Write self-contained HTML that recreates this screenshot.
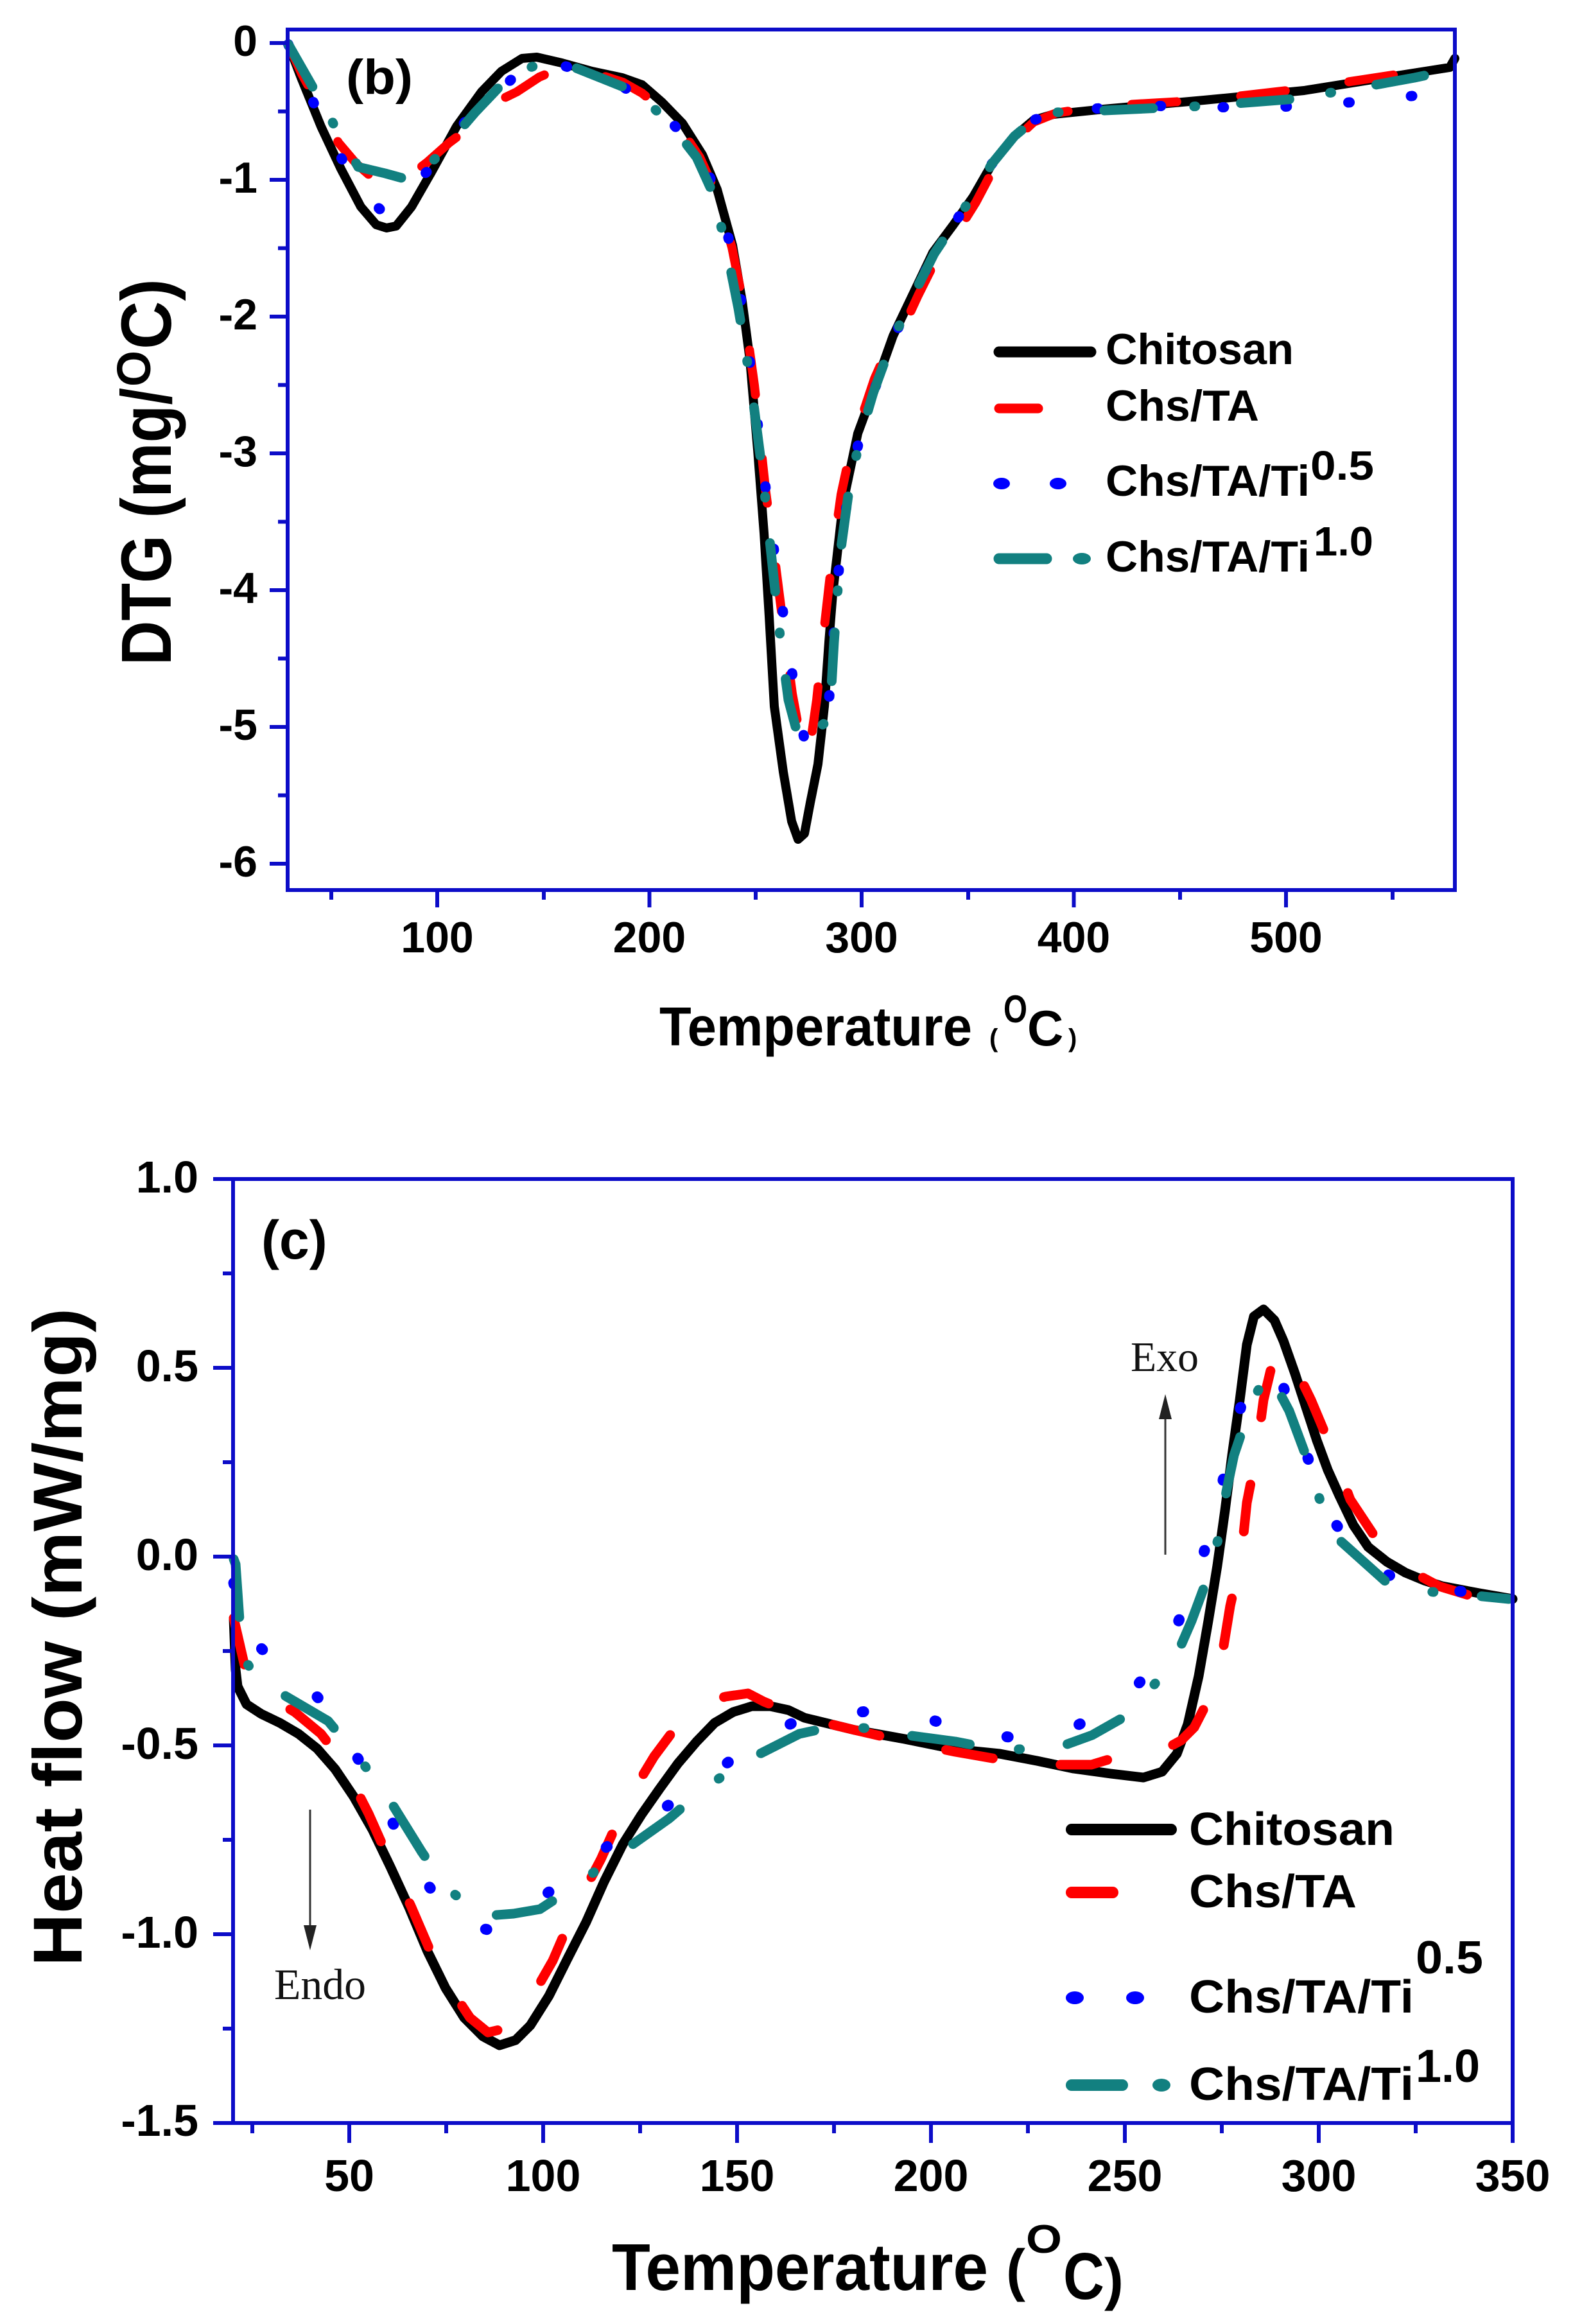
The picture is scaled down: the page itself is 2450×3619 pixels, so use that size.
<!DOCTYPE html>
<html>
<head>
<meta charset="utf-8">
<style>
  html,body{margin:0;padding:0;background:#fff;}
  body{width:2450px;height:3619px;overflow:hidden;}
  svg{display:block;}
  .tk{font-family:"Liberation Sans",Arial,sans-serif;font-weight:bold;fill:#000;}
  .lg{font-family:"Liberation Sans",Arial,sans-serif;font-weight:bold;fill:#000;}
  .sf{font-family:"Liberation Serif","Times New Roman",serif;fill:#111;}
</style>
</head>
<body>
<svg width="2450" height="3619" viewBox="0 0 2450 3619" xmlns="http://www.w3.org/2000/svg">
<rect x="0" y="0" width="2450" height="3619" fill="#fff"/>

<!-- ================= TOP PLOT (b) ================= -->
<g fill="none" stroke-linejoin="round">
  <!-- Chitosan -->
  <path stroke="#000" stroke-width="14" stroke-linecap="round" d="M449,69 L469,121 L500,197 L531,263 L562,322 L586,350 L602,355 L617,352 L641,322 L672,268 L711,197 L750,143 L781,111 L813,91 L836,89 L875,98 L922,111 L969,121 L1000,132 L1031,159 L1063,192 L1094,241 L1117,295 L1141,382 L1156,469 L1168,560 L1180,700 L1190,830 L1198,960 L1206,1100 L1220,1202 L1233,1279 L1243,1307 L1253,1298 L1262,1250 L1274,1190 L1284,1100 L1291,1000 L1297,925 L1313,784 L1336,675 L1360,610 L1391,523 L1422,458 L1453,393 L1485,350 L1516,306 L1547,252 L1578,214 L1610,187 L1641,178 L1719,170 L1875,156 L2031,141 L2188,116 L2258,105 L2266,91"/>
  <!-- Chs/TA -->
  <path stroke="#ff0000" stroke-width="14" stroke-linecap="round" stroke-dasharray="70 100" d="M449,69 L470,115 L500,170 L527,222 L555,255 L586,282 L605,292 L625,285 L645,268 L665,253 L700,222 L736,195 L770,160 L805,143 L840,120 L880,103 L920,112 L970,128 L1000,145 L1030,170 L1060,200 L1090,245 L1115,300 L1140,385 L1157,470 L1175,600 L1192,760 L1208,880 L1222,990 L1234,1080 L1245,1140 L1255,1178 L1262,1160 L1272,1090 L1283,985 L1296,870 L1310,770 L1325,700 L1342,650 L1362,590 L1384,540 L1406,512 L1430,460 L1460,400 L1492,360 L1520,315 L1548,262 L1580,218 L1610,190 L1645,176 L1719,165 L1875,156 L2031,138 L2188,114 L2234,108"/>
  <!-- Chs/TA/Ti0.5 -->
  <path stroke="#0000ff" stroke-width="16" stroke-linecap="round" stroke-dasharray="2 96" d="M449,69 L470,120 L500,185 L531,245 L560,295 L594,328 L615,320 L640,290 L671,262 L700,220 L740,170 L780,140 L810,110 L840,95 L870,100 L920,115 L970,135 L1010,160 L1050,195 L1085,235 L1110,285 L1130,350 L1150,440 L1165,540 L1180,660 L1195,780 L1210,890 L1225,990 L1240,1090 L1254,1156 L1270,1140 L1289,1123 L1296,1020 L1307,880 L1320,775 L1337,690 L1360,612 L1390,530 L1420,465 L1455,395 L1485,350 L1515,305 L1545,255 L1580,212 L1610,187 L1645,175 L1719,168 L1805,165 L1891,167 L1981,167 L2066,163 L2156,154 L2242,145"/>
  <!-- Chs/TA/Ti1.0 -->
  <path stroke="#128080" stroke-width="15" stroke-linecap="round" stroke-dasharray="76 64 2 71" d="M449,69 L497,153 L525,203 L558,260 L600,270 L640,281 L680,245 L740,175 L797,115 L840,100 L875,97 L920,115 L970,135 L1010,160 L1050,200 L1085,245 L1110,300 L1130,380 L1150,480 L1170,600 L1188,740 L1203,880 L1216,1000 L1228,1090 L1240,1135 L1250,1153 L1292,1120 L1299,1000 L1309,860 L1322,765 L1340,680 L1360,612 L1390,530 L1420,465 L1455,395 L1485,350 L1515,305 L1545,255 L1580,212 L1610,187 L1645,175 L1719,172 L1875,165 L2016,154 L2110,138 L2203,121 L2250,111"/>
</g>

<!-- axes top -->
<g stroke="#0c0cc8" stroke-width="6" fill="none">
  <rect x="448" y="46" width="1818" height="1340"/>
  <path d="M420,67 H448 M420,280 H448 M420,493 H448 M420,706 H448 M420,919 H448 M420,1132 H448 M420,1345 H448"/>
  <path d="M433,173.5 H448 M433,386.5 H448 M433,599.5 H448 M433,812.5 H448 M433,1025.5 H448 M433,1238.5 H448"/>
  <path d="M681,1386 V1413 M1011.5,1386 V1413 M1342,1386 V1413 M1672.5,1386 V1413 M2003,1386 V1413"/>
  <path d="M516,1386 V1401 M847,1386 V1401 M1177,1386 V1401 M1508,1386 V1401 M1838,1386 V1401 M2169,1386 V1401"/>
</g>

<!-- top tick labels -->
<g class="tk" font-size="68" text-anchor="end">
  <text x="401" y="87">0</text>
  <text x="401" y="300">-1</text>
  <text x="401" y="513">-2</text>
  <text x="401" y="726">-3</text>
  <text x="401" y="939">-4</text>
  <text x="401" y="1152">-5</text>
  <text x="401" y="1365">-6</text>
</g>
<g class="tk" font-size="68" text-anchor="middle">
  <text x="681" y="1483">100</text>
  <text x="1011.5" y="1483">200</text>
  <text x="1342" y="1483">300</text>
  <text x="1672.5" y="1483">400</text>
  <text x="2003" y="1483">500</text>
</g>

<!-- (b) -->
<text class="tk" x="539" y="146" font-size="76" textLength="104" lengthAdjust="spacingAndGlyphs">(b)</text>

<!-- top x title -->
<text class="tk" x="1027" y="1628" font-size="85" textLength="487" lengthAdjust="spacingAndGlyphs">Temperature</text>
<text class="tk" x="1541" y="1630" font-size="40">(</text>
<text class="tk" x="1563" y="1592" font-size="60" textLength="37" lengthAdjust="spacingAndGlyphs">O</text>
<text class="tk" x="1600" y="1628" font-size="78">C</text>
<text class="tk" x="1664" y="1630" font-size="40">)</text>

<!-- top y title -->
<g transform="translate(266,1036) rotate(-90)">
  <text class="tk" x="0" y="0" font-size="110" textLength="432" lengthAdjust="spacingAndGlyphs">DTG (mg/</text>
  <text class="tk" x="434" y="-32" font-size="74" textLength="56" lengthAdjust="spacingAndGlyphs">O</text>
  <text class="tk" x="492" y="0" font-size="110" textLength="110" lengthAdjust="spacingAndGlyphs">C)</text>
</g>

<!-- top legend -->
<g stroke-linecap="round">
  <line x1="1556" y1="548" x2="1699" y2="548" stroke="#000" stroke-width="17"/>
  <line x1="1556" y1="636" x2="1617" y2="636" stroke="#ff0000" stroke-width="15"/>
  <ellipse cx="1560" cy="753" rx="13" ry="9" fill="#0000ff"/>
  <ellipse cx="1648" cy="753" rx="13" ry="9" fill="#0000ff"/>
  <line x1="1556" y1="870" x2="1630" y2="870" stroke="#128080" stroke-width="17"/>
  <ellipse cx="1685" cy="870" rx="14" ry="9" fill="#128080"/>
</g>
<g class="lg" font-size="68">
  <text x="1722" y="567" textLength="293" lengthAdjust="spacingAndGlyphs">Chitosan</text>
  <text x="1722" y="655" textLength="239" lengthAdjust="spacingAndGlyphs">Chs/TA</text>
  <text x="1722" y="772" textLength="318" lengthAdjust="spacingAndGlyphs">Chs/TA/Ti</text>
  <text x="2041" y="747" font-size="64" textLength="99" lengthAdjust="spacingAndGlyphs">0.5</text>
  <text x="1722" y="890" textLength="318" lengthAdjust="spacingAndGlyphs">Chs/TA/Ti</text>
  <text x="2046" y="865" font-size="64" textLength="93" lengthAdjust="spacingAndGlyphs">1.0</text>
</g>

<!-- ================= BOTTOM PLOT (c) ================= -->
<g fill="none" stroke-linejoin="round">
  <!-- Chitosan -->
  <path stroke="#000" stroke-width="15" stroke-linecap="round" d="M364,2520 L367,2600 L370,2626 L384,2654 L407,2669 L436,2683 L465,2700 L494,2723 L522,2755 L551,2798 L580,2849 L608,2907 L637,2970 L666,3039 L694,3096 L723,3142 L752,3171 L778,3185 L803,3177 L826,3154 L855,3108 L884,3050 L913,2993 L941,2930 L970,2872 L999,2826 L1027,2786 L1056,2746 L1085,2712 L1113,2683 L1142,2666 L1171,2657 L1200,2657 L1228,2663 L1253,2675 L1331,2694 L1409,2708 L1488,2724 L1557,2731 L1615,2742 L1672,2754 L1730,2762 L1781,2768 L1810,2759 L1833,2731 L1850,2685 L1867,2610 L1882,2524 L1896,2438 L1908,2352 L1919,2266 L1931,2180 L1942,2094 L1953,2050 L1968,2039 L1985,2056 L1999,2088 L2017,2139 L2034,2191 L2051,2243 L2068,2289 L2086,2329 L2108,2375 L2131,2409 L2160,2432 L2189,2449 L2218,2461 L2246,2470 L2304,2481 L2356,2490"/>
  <!-- Chs/TA -->
  <path stroke="#ff0000" stroke-width="15" stroke-linecap="round" stroke-dasharray="74 106" d="M364,2520 L387,2620 L420,2643 L459,2666 L500,2700 L531,2740 L574,2824 L610,2905 L640,2968 L683,3068 L732,3142 L760,3165 L790,3158 L818,3128 L861,3053 L898,2967 L936,2895 L976,2806 L1019,2735 L1060,2680 L1090,2654 L1130,2642 L1165,2637 L1190,2650 L1253,2675 L1331,2694 L1409,2712 L1488,2728 L1569,2742 L1646,2748 L1700,2748 L1730,2739 L1807,2728 L1840,2710 L1860,2690 L1876,2659 L1902,2587 L1916,2501 L1933,2426 L1942,2340 L1956,2269 L1968,2180 L1980,2130 L1991,2102 L2005,2110 L2020,2135 L2042,2180 L2071,2249 L2103,2335 L2152,2409 L2200,2448 L2241,2470 L2307,2490 L2350,2495"/>
  <!-- Chs/TA/Ti0.5 -->
  <path stroke="#0000ff" stroke-width="17" stroke-linecap="round" stroke-dasharray="2 113" d="M364,2465 L382,2542 L420,2580 L471,2617 L510,2660 L542,2712 L570,2760 L597,2809 L620,2855 L646,2904 L680,2955 L717,2996 L760,3005 L806,2987 L850,2950 L907,2907 L950,2872 L1002,2838 L1050,2805 L1096,2772 L1140,2740 L1191,2706 L1240,2680 L1300,2669 L1378,2663 L1440,2675 L1480,2687 L1530,2700 L1572,2705 L1620,2698 L1666,2693 L1720,2665 L1764,2633 L1800,2590 L1830,2538 L1850,2490 L1867,2444 L1896,2349 L1916,2251 L1942,2157 L1971,2134 L1999,2160 L2030,2250 L2065,2352 L2100,2400 L2129,2438 L2180,2460 L2226,2475 L2321,2481 L2350,2485"/>
  <!-- Chs/TA/Ti1.0 -->
  <path stroke="#128080" stroke-width="15" stroke-linecap="round" stroke-dasharray="91 77 2 75" d="M364,2428 L367,2436 L373,2522 L379,2582 L400,2612 L419,2626 L511,2680 L557,2735 L600,2792 L657,2884 L694,2938 L749,2984 L800,2980 L841,2973 L890,2941 L953,2895 L1042,2832 L1096,2786 L1154,2746 L1245,2700 L1300,2688 L1347,2691 L1420,2703 L1488,2712 L1555,2725 L1646,2722 L1701,2702 L1761,2668 L1830,2584 L1856,2524 L1876,2470 L1902,2381 L1910,2323 L1922,2266 L1951,2180 L1976,2137 L2008,2197 L2040,2283 L2057,2340 L2086,2398 L2163,2467 L2220,2478 L2300,2485 L2350,2490"/>
</g>

<!-- axes bottom -->
<g stroke="#0c0cc8" stroke-width="6" fill="none">
  <rect x="363" y="1836" width="1993" height="1470"/>
  <path d="M332,1836 H363 M332,2130 H363 M332,2424 H363 M332,2718 H363 M332,3012 H363 M332,3306 H363"/>
  <path d="M347,1983 H363 M347,2277 H363 M347,2571 H363 M347,2865 H363 M347,3159 H363"/>
  <path d="M544,3306 V3337 M846,3306 V3337 M1148,3306 V3337 M1450,3306 V3337 M1752,3306 V3337 M2054,3306 V3337 M2356,3306 V3337"/>
  <path d="M393,3306 V3322 M695,3306 V3322 M997,3306 V3322 M1299,3306 V3322 M1601,3306 V3322 M1903,3306 V3322 M2205,3306 V3322"/>
</g>

<!-- bottom tick labels -->
<g class="tk" font-size="70" text-anchor="end">
  <text x="309" y="1857">1.0</text>
  <text x="309" y="2151">0.5</text>
  <text x="309" y="2445">0.0</text>
  <text x="309" y="2739">-0.5</text>
  <text x="309" y="3033">-1.0</text>
  <text x="309" y="3326">-1.5</text>
</g>
<g class="tk" font-size="70" text-anchor="middle">
  <text x="544" y="3412">50</text>
  <text x="846" y="3412">100</text>
  <text x="1148" y="3412">150</text>
  <text x="1450" y="3412">200</text>
  <text x="1752" y="3412">250</text>
  <text x="2054" y="3412">300</text>
  <text x="2356" y="3412">350</text>
</g>

<!-- (c) -->
<text class="tk" x="407" y="1960" font-size="84">(c)</text>

<!-- Exo / Endo -->
<text class="sf" x="1761" y="2135" font-size="66" textLength="106" lengthAdjust="spacingAndGlyphs">Exo</text>
<line x1="1815" y1="2421" x2="1815" y2="2205" stroke="#333" stroke-width="3"/>
<polygon points="1815,2171 1805,2210 1825,2210" fill="#222"/>
<text class="sf" x="427" y="3113" font-size="68" textLength="143" lengthAdjust="spacingAndGlyphs">Endo</text>
<line x1="483" y1="2818" x2="483" y2="3005" stroke="#333" stroke-width="3"/>
<polygon points="483,3037 473,2998 493,2998" fill="#222"/>

<!-- bottom x title -->
<text class="tk" x="953" y="3566" font-size="103" textLength="586" lengthAdjust="spacingAndGlyphs">Temperature</text>
<text class="tk" x="1567" y="3566" font-size="90">(</text>
<text class="tk" x="1598" y="3508" font-size="62" textLength="56" lengthAdjust="spacingAndGlyphs">O</text>
<text class="tk" x="1656" y="3580" font-size="103" textLength="64" lengthAdjust="spacingAndGlyphs">C</text>
<text class="tk" x="1720" y="3580" font-size="90">)</text>

<!-- bottom y title -->
<text class="tk" transform="translate(127,3062) rotate(-90)" x="0" y="0" font-size="108" textLength="1025" lengthAdjust="spacingAndGlyphs">Heat flow (mW/mg)</text>

<!-- bottom legend -->
<g stroke-linecap="round">
  <line x1="1669" y1="2849" x2="1824" y2="2849" stroke="#000" stroke-width="18"/>
  <line x1="1669" y1="2947" x2="1733" y2="2947" stroke="#ff0000" stroke-width="18"/>
  <ellipse cx="1674" cy="3111" rx="14" ry="10" fill="#0000ff"/>
  <ellipse cx="1768" cy="3111" rx="14" ry="10" fill="#0000ff"/>
  <line x1="1669" y1="3247" x2="1748" y2="3247" stroke="#128080" stroke-width="18"/>
  <ellipse cx="1809" cy="3247" rx="14" ry="10" fill="#128080"/>
</g>
<g class="lg" font-size="72">
  <text x="1852" y="2873" textLength="320" lengthAdjust="spacingAndGlyphs">Chitosan</text>
  <text x="1852" y="2970" textLength="261" lengthAdjust="spacingAndGlyphs">Chs/TA</text>
  <text x="1852" y="3134" textLength="350" lengthAdjust="spacingAndGlyphs">Chs/TA/Ti</text>
  <text x="2205" y="3073" textLength="105" lengthAdjust="spacingAndGlyphs">0.5</text>
  <text x="1852" y="3270" textLength="350" lengthAdjust="spacingAndGlyphs">Chs/TA/Ti</text>
  <text x="2205" y="3242" textLength="100" lengthAdjust="spacingAndGlyphs">1.0</text>
</g>

</svg>
</body>
</html>
